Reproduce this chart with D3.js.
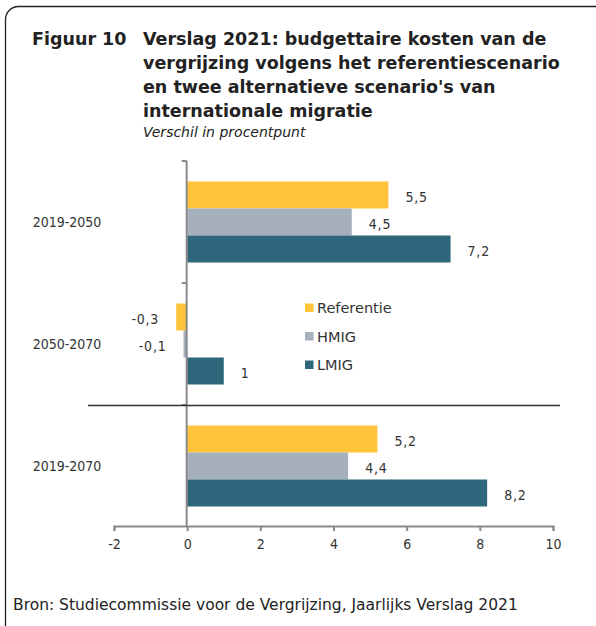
<!DOCTYPE html>
<html><head><meta charset="utf-8">
<script src="https://cdn.jsdelivr.net/npm/d3@7"></script>
<style>
html,body{margin:0;padding:0;background:#fff;}
svg{display:block;}
</style></head>
<body>
<script>
const categories = ["2019-2050", "2050-2070", "2019-2070"];
const seriesNames = ["Referentie", "HMIG", "LMIG"];
const referentie = [5.5, -0.3, 5.2];
const hmig = [4.5, -0.1, 4.4];
const lmig = [7.2, 1, 8.2];
const xTicks = [-2, 0, 2, 4, 6, 8, 10];
const colors = ["#FFC43A", "#A6B0BD", "#2E677C"];

const W = 596, H = 626;
const fontC = "'DejaVu Sans Condensed', 'DejaVu Sans', sans-serif";
const fontR = "'DejaVu Sans', sans-serif";
const txt = "#333";

const svg = d3.select("body").append("svg").attr("width", W).attr("height", H);

svg.append("rect").attr("x", 5.5).attr("y", 6.5).attr("width", 620).attr("height", 660)
  .attr("rx", 13).attr("fill", "none").attr("stroke", "#222").attr("stroke-width", 1.3);

// Title
const title = svg.append("g").attr("font-family", fontR).attr("font-weight", "bold")
  .attr("font-size", 17.5).attr("fill", "#222");
title.append("text").attr("x", 32).attr("y", 45).text("Figuur 10");
const tl = ["Verslag 2021: budgettaire kosten van de",
  "vergrijzing volgens het referentiescenario",
  "en twee alternatieve scenario's van",
  "internationale migratie"];
tl.forEach((t, i) => title.append("text").attr("x", 143).attr("y", 45 + i * 24).text(t));
svg.append("text").attr("x", 143).attr("y", 137).attr("font-family", fontR)
  .attr("font-style", "italic").attr("font-size", 14).attr("fill", "#222")
  .text("Verschil in procentpunt");

const x = d3.scaleLinear().domain([-2, 10]).range([114, 553]);
const y = d3.scaleBand().domain(categories).range([161, 527]);
const ys = d3.scaleBand().domain(seriesNames).range([20.5, 101.5]);

const data = [];
categories.forEach((c, i) => {
  [referentie, hmig, lmig].forEach((arr, s) => {
    data.push({cat: c, s: seriesNames[s], v: arr[i], color: colors[s]});
  });
});

const fmt = v => String(v).replace(".", ",");

// bars
svg.append("g").selectAll("rect").data(data).join("rect")
  .attr("x", d => x(Math.min(0, d.v)))
  .attr("y", d => y(d.cat) + ys(d.s))
  .attr("width", d => Math.abs(x(d.v) - x(0)))
  .attr("height", ys.bandwidth())
  .attr("fill", d => d.color);

// value labels
svg.append("g").attr("font-family", fontC).attr("font-size", 14).attr("fill", txt)
  .selectAll("text").data(data).join("text")
  .attr("x", d => d.v >= 0 ? x(d.v) + 17 : x(d.v) - 17)
  .attr("y", d => y(d.cat) + ys(d.s) + ys.bandwidth() / 2 + 2)
  .attr("dy", "0.35em")
  .attr("text-anchor", d => d.v >= 0 ? "start" : "end")
  .attr("letter-spacing", 0.8)
  .text(d => fmt(d.v));

// x axis
const xa = svg.append("g").attr("transform", `translate(0,526)`)
  .call(d3.axisBottom(x).tickValues(xTicks).tickSize(5).tickPadding(8).tickFormat(d => String(d)));
xa.select(".domain").attr("stroke", "#8a8a8a").attr("stroke-width", 2);
xa.selectAll(".tick line").attr("stroke", "#8a8a8a").attr("stroke-width", 2);
xa.selectAll(".tick text").attr("font-family", fontC).attr("font-size", 14).attr("fill", txt);

// y axis
const ya = svg.append("g").attr("transform", `translate(${x(0) - 0.5},0)`);
ya.append("line").attr("y1", y.range()[0]).attr("y2", y.range()[1])
  .attr("stroke", "#8a8a8a").attr("stroke-width", 2);
const bounds = categories.map(c => y(c));
ya.selectAll("line.t").data(bounds).join("line").attr("class", "t")
  .attr("x1", -5).attr("x2", 0).attr("y1", d => d).attr("y2", d => d)
  .attr("stroke", "#8a8a8a").attr("stroke-width", 2);

// category labels
svg.append("g").attr("font-family", fontC).attr("font-size", 14).attr("fill", txt)
  .selectAll("text").data(categories).join("text")
  .attr("x", 67).attr("y", d => y(d) + y.bandwidth() / 2)
  .attr("dy", "0.35em").attr("text-anchor", "middle").text(d => d);

// separator line
svg.append("line").attr("x1", 88).attr("x2", 560)
  .attr("y1", y(categories[2]) + 0.5).attr("y2", y(categories[2]) + 0.5)
  .attr("stroke", "#333").attr("stroke-width", 1.5);

// legend
const lg = svg.append("g").attr("font-family", fontR).attr("font-size", 14.5).attr("fill", txt);
seriesNames.forEach((n, i) => {
  const cy = 308 + i * 28.5;
  lg.append("rect").attr("x", 305).attr("y", cy - 4.5).attr("width", 8.5).attr("height", 8.5).attr("fill", colors[i]);
  lg.append("text").attr("x", 317).attr("y", cy).attr("dy", "0.35em").text(n);
});

// source
svg.append("text").attr("x", 13).attr("y", 610).attr("font-family", fontR)
  .attr("font-size", 15.5).attr("fill", "#222")
  .text("Bron: Studiecommissie voor de Vergrijzing, Jaarlijks Verslag 2021");
</script>
</body></html>
